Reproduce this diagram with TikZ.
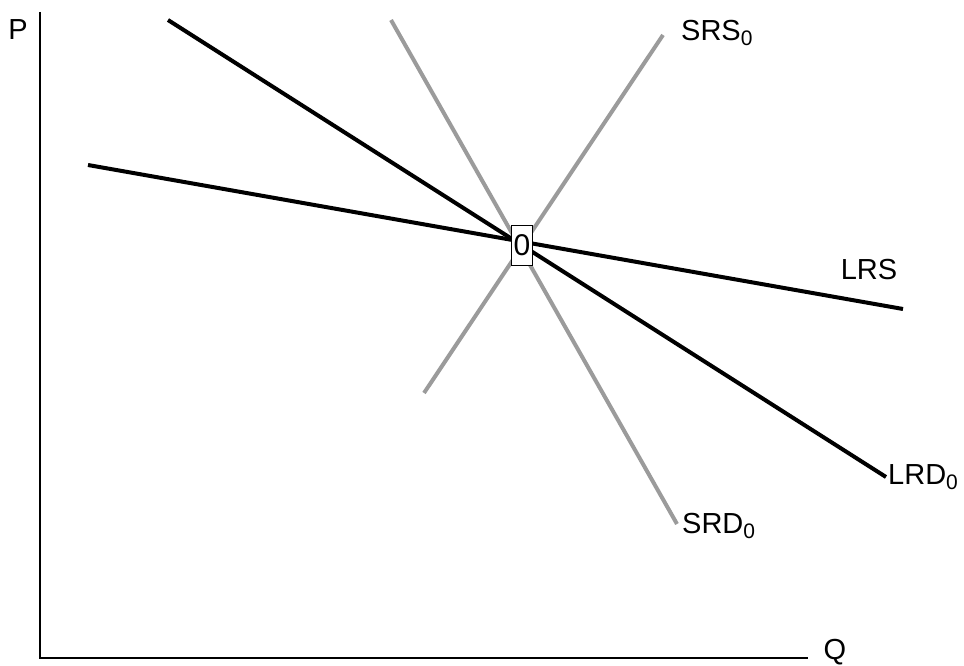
\documentclass[tikz,border=0pt]{standalone}
\usepackage{fontspec}
\setmainfont{Liberation Sans}
\newcommand\lowsub[1]{\raisebox{-0.35ex}{\fontsize{21}{24}\selectfont #1}}
\begin{document}
\begin{tikzpicture}[x=1pt,y=-1pt,
  lab/.style={font=\fontsize{29}{32}\selectfont, inner sep=0pt},
  bline/.style={line width=4pt, black},
  gline/.style={line width=4pt, color={rgb,255:red,155;green,155;blue,155}},
  axis/.style={line width=2pt, black}]
\useasboundingbox (0,0) rectangle (964,666);
% axes
\coordinate (top) at (40,12);
\coordinate (orig) at (40,658);
\coordinate (right) at (808,658);
\draw[axis] (top) -- (orig) -- (right);
\node[lab] (P) at (18,30) {P};
\node[lab] (Q) at (835,652) {Q};
% curve endpoints
\coordinate (srsA) at (424,393);
\coordinate (srsB) at (663,35);
\coordinate (srdA) at (391,20);
\coordinate (srdB) at (677,524);
\coordinate (lrdA) at (168,20);
\coordinate (lrdB) at (886,477);
\coordinate (lrsA) at (88,165);
\coordinate (lrsB) at (903,309);
\draw[gline] (srsA) -- (srsB);
\draw[gline] (srdA) -- (srdB);
\draw[bline] (lrdA) -- (lrdB);
\draw[bline] (lrsA) -- (lrsB);
% center box
\node[draw, line width=0.9pt, fill=white, font=\fontsize{30}{32}\selectfont,
      inner sep=0pt, minimum width=21pt, minimum height=40pt] (E) at (522,245) {0};
% labels
\node[lab, anchor=west] (SRS) at (681,33) {SRS\lowsub{0}};
\node[lab, anchor=west] (LRD) at (888,477) {LRD\lowsub{0}};
\node[lab, anchor=west] (SRD) at (682,526) {SRD\lowsub{0}};
\node[lab] (LRS) at (869,270) {LRS};
\end{tikzpicture}
\end{document}
